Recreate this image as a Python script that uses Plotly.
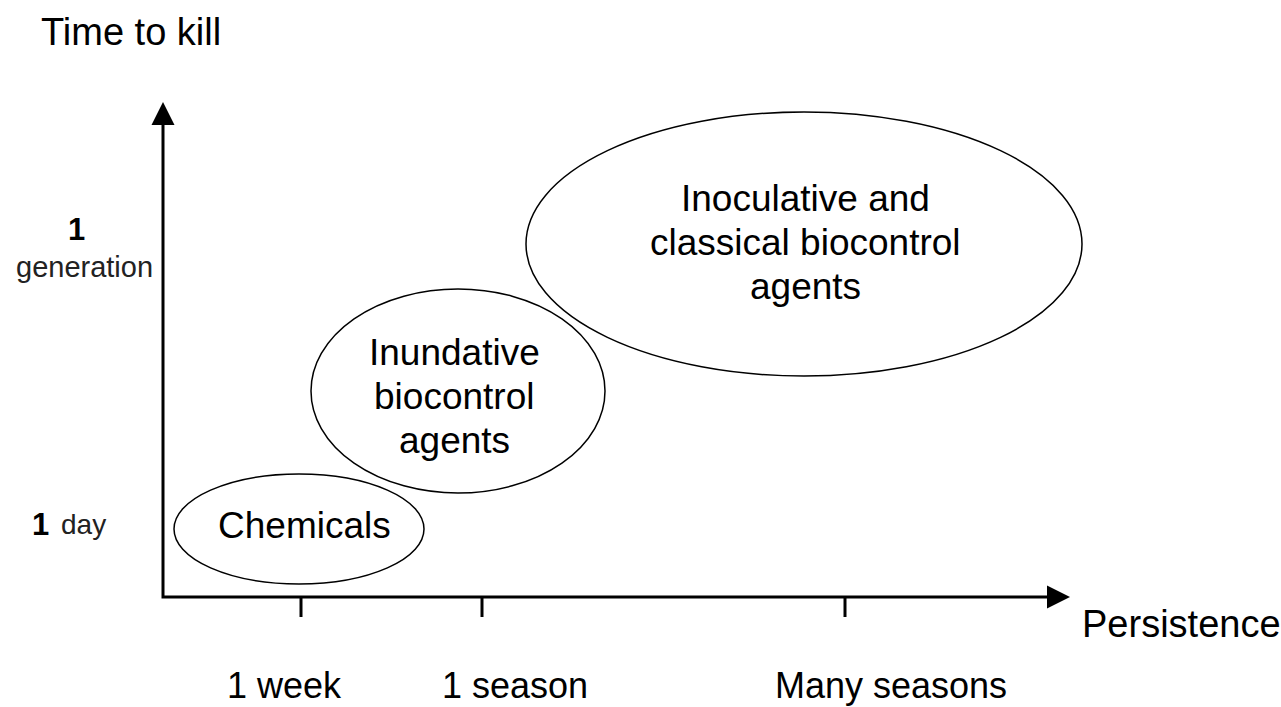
import plotly.graph_objects as go

# ---- data (positions in the diagram's own coordinate frame) ----
ellipse_names = ["Chemicals", "Inundative", "Inoculative"]
ellipse_cx = [299, 458, 804]
ellipse_cy = [529, 391, 244]
ellipse_rx = [125, 147, 278]
ellipse_ry = [55, 102, 132]
ellipse_lines = [
    ["Chemicals"],
    ["Inundative", "biocontrol", "agents"],
    ["Inoculative and", "classical biocontrol", "agents"],
]
ellipse_text_y0 = [525, 352, 198]
ellipse_text_x = [304, 454, 805]
line_gap = 44

x_tick_pos = [301, 482, 845]
x_tick_labels = ["1 week", "1 season", "Many seasons"]
x_tick_label_x = [284, 515, 891]

origin = (163, 597)
y_axis_top = 102
x_axis_end = 1070

FONT = "Liberation Sans, Arial, sans-serif"

fig = go.Figure()

# axes lines
fig.add_trace(go.Scatter(
    x=[origin[0], origin[0], x_axis_end - 10],
    y=[y_axis_top + 10, origin[1], origin[1]],
    mode="lines", line=dict(color="black", width=3),
    hoverinfo="skip"))

# arrowheads
fig.add_trace(go.Scatter(
    x=[origin[0]], y=[y_axis_top], mode="markers",
    marker=dict(symbol="arrow-up", size=23, color="black"),
    hoverinfo="skip"))
fig.add_trace(go.Scatter(
    x=[x_axis_end], y=[origin[1]], mode="markers",
    marker=dict(symbol="arrow-right", size=23, color="black"),
    hoverinfo="skip"))

# tick marks
tx, ty = [], []
for t in x_tick_pos:
    tx += [t, t, None]
    ty += [origin[1], origin[1] + 20, None]
fig.add_trace(go.Scatter(x=tx, y=ty, mode="lines",
                         line=dict(color="black", width=3), hoverinfo="skip"))

shapes = []
for cx, cy, rx, ry in zip(ellipse_cx, ellipse_cy, ellipse_rx, ellipse_ry):
    shapes.append(dict(type="circle", xref="x", yref="y",
                       x0=cx - rx, x1=cx + rx, y0=cy - ry, y1=cy + ry,
                       line=dict(color="black", width=1.5)))

ann = []
for lines, tx0, ty0 in zip(ellipse_lines, ellipse_text_x, ellipse_text_y0):
    for i, ln in enumerate(lines):
        ann.append(dict(x=tx0, y=ty0 + i * line_gap, text=ln, showarrow=False,
                        xref="x", yref="y", font=dict(family=FONT, size=37, color="black")))

for lab, lx in zip(x_tick_labels, x_tick_label_x):
    ann.append(dict(x=lx, y=685, text=lab, showarrow=False, xref="x", yref="y",
                    borderpad=0, font=dict(family=FONT, size=36, color="black")))

ann.append(dict(x=131, y=32, text="Time to kill", showarrow=False, xref="x", yref="y",
                font=dict(family=FONT, size=38, color="black")))
ann.append(dict(x=1181, y=624, text="Persistence", showarrow=False, xref="x", yref="y",
                font=dict(family=FONT, size=38, color="black")))

# y-axis labels
ann.append(dict(x=76, y=229, text="<b>1</b>", showarrow=False, xref="x", yref="y",
                font=dict(family=FONT, size=31, color="black")))
ann.append(dict(x=84, y=267, text="generation", showarrow=False, xref="x", yref="y",
                font=dict(family=FONT, size=29, color="#222222")))
ann.append(dict(x=40, y=524, text="<b>1</b>", showarrow=False, xref="x", yref="y",
                font=dict(family=FONT, size=31, color="black")))
ann.append(dict(x=83, y=524, text="day", showarrow=False, xref="x", yref="y",
                font=dict(family=FONT, size=28, color="#222222")))

fig.update_layout(
    width=1281, height=707,
    margin=dict(l=0, r=0, t=0, b=0),
    paper_bgcolor="white", plot_bgcolor="white",
    showlegend=False,
    xaxis=dict(range=[0, 1281], visible=False, fixedrange=True),
    yaxis=dict(range=[707, 0], visible=False, fixedrange=True),
    shapes=shapes, annotations=ann,
)

fig.write_html(
    "out.html",
    config={"displayModeBar": False},
    post_script="document.body.style.margin='0';document.body.style.overflow='hidden';",
)
